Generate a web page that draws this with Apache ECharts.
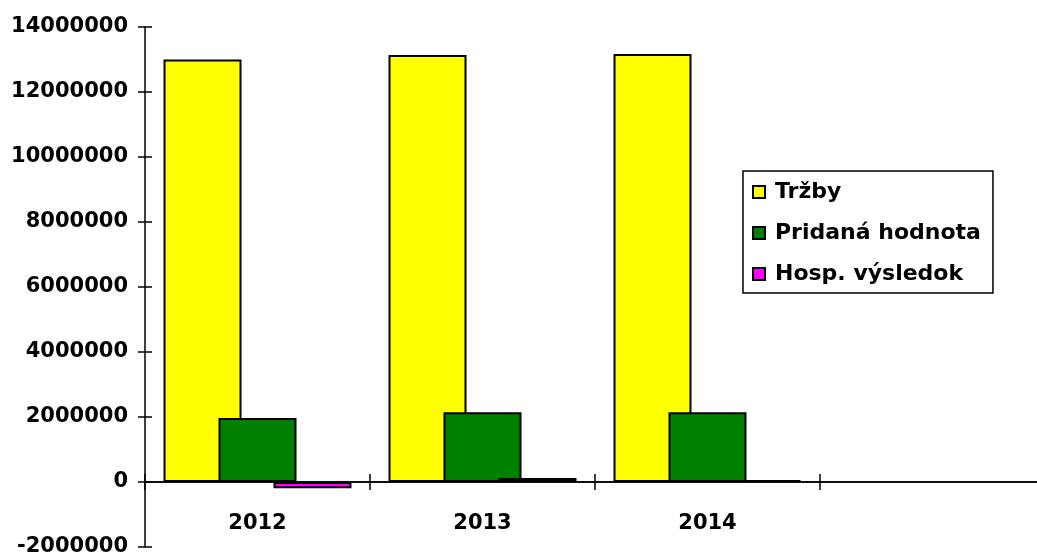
<!DOCTYPE html>
<html>
<head>
<meta charset="utf-8">
<script src="https://cdn.jsdelivr.net/npm/echarts@6/dist/echarts.min.js"></script>
<style>
html,body{margin:0;padding:0;background:#fff;}
#c{width:1037px;height:558px;}
</style>
</head>
<body>
<div id="c"></div>
<script>
var categories = ['2012', '2013', '2014', ''];
var seriesNames = ['Tržby', 'Pridaná hodnota', 'Hosp. výsledok'];
var trzby = [13000000, 13140000, 13170000];
var pridana = [1970000, 2150000, 2150000];
var hosp = [-190000, 120000, 60000];
var yTicks = { min: -2000000, max: 14000000, interval: 2000000 };

var FONT = 'DejaVu Sans';
var chart = echarts.init(document.getElementById('c'), null, { renderer: 'canvas' });
var barStyle = function (color) {
  return { color: color, borderColor: '#000', borderWidth: 2 };
};
var option = {
  animation: false,
  backgroundColor: '#fff',
  grid: { left: 145, right: -8, top: 27, bottom: 11, containLabel: false, outerBoundsMode: 'none' },
  legend: {
    orient: 'vertical',
    left: 743, top: 171,
    icon: 'rect',
    itemWidth: 12, itemHeight: 12,
    itemGap: 17,
    padding: [9, 12, 7, 9],
    borderColor: '#000', borderWidth: 1.5,
    backgroundColor: '#fff',
    textStyle: { fontFamily: FONT, fontWeight: 'bold', fontSize: 22, color: '#000', lineHeight: 24, padding: [0, 0, 0, 5] },
    data: seriesNames
  },
  xAxis: [{
    type: 'category', data: categories, position: 'bottom',
    axisLine: { onZero: true, lineStyle: { color: '#000', width: 1.5 } },
    axisTick: { show: true, inside: false, length: 8, lineStyle: { color: '#000', width: 1.5 } },
    axisLabel: { fontFamily: FONT, fontWeight: 'bold', fontSize: 21, color: '#000', margin: -34 },
    splitLine: { show: false }
  }, {
    type: 'category', data: categories, position: 'bottom',
    axisLine: { onZero: true, lineStyle: { color: '#000', width: 1.5 } },
    axisTick: { show: true, inside: true, length: 8, lineStyle: { color: '#000', width: 1.5 } },
    axisLabel: { show: false },
    splitLine: { show: false }
  }],
  yAxis: [{
    type: 'value', min: yTicks.min, max: yTicks.max, interval: yTicks.interval, position: 'left',
    axisLine: { show: true, onZero: false, lineStyle: { color: '#000', width: 1.5 } },
    axisTick: { show: true, inside: false, length: 7, lineStyle: { color: '#000', width: 1.5 } },
    axisLabel: { fontFamily: FONT, fontWeight: 'bold', fontSize: 21, color: '#000', margin: 17,
      formatter: function (v) { return String(v); } },
    splitLine: { show: false }
  }, {
    type: 'value', min: yTicks.min, max: yTicks.max, interval: yTicks.interval, position: 'left',
    axisLine: { show: false, onZero: false },
    axisTick: { show: true, inside: true, length: 7, lineStyle: { color: '#000', width: 1.5 } },
    axisLabel: { show: false },
    splitLine: { show: false }
  }],
  series: [
    { name: seriesNames[0], type: 'bar', data: trzby, barWidth: 78, barGap: '-29.5%', itemStyle: barStyle('#FFFF00') },
    { name: seriesNames[1], type: 'bar', data: pridana, barWidth: 78, barGap: '-29.5%', itemStyle: barStyle('#008000') },
    { name: seriesNames[2], type: 'bar', data: hosp, barWidth: 78, barGap: '-29.5%', itemStyle: barStyle('#FF00FF') }
  ]
};
chart.setOption(option);
</script>
</body>
</html>
